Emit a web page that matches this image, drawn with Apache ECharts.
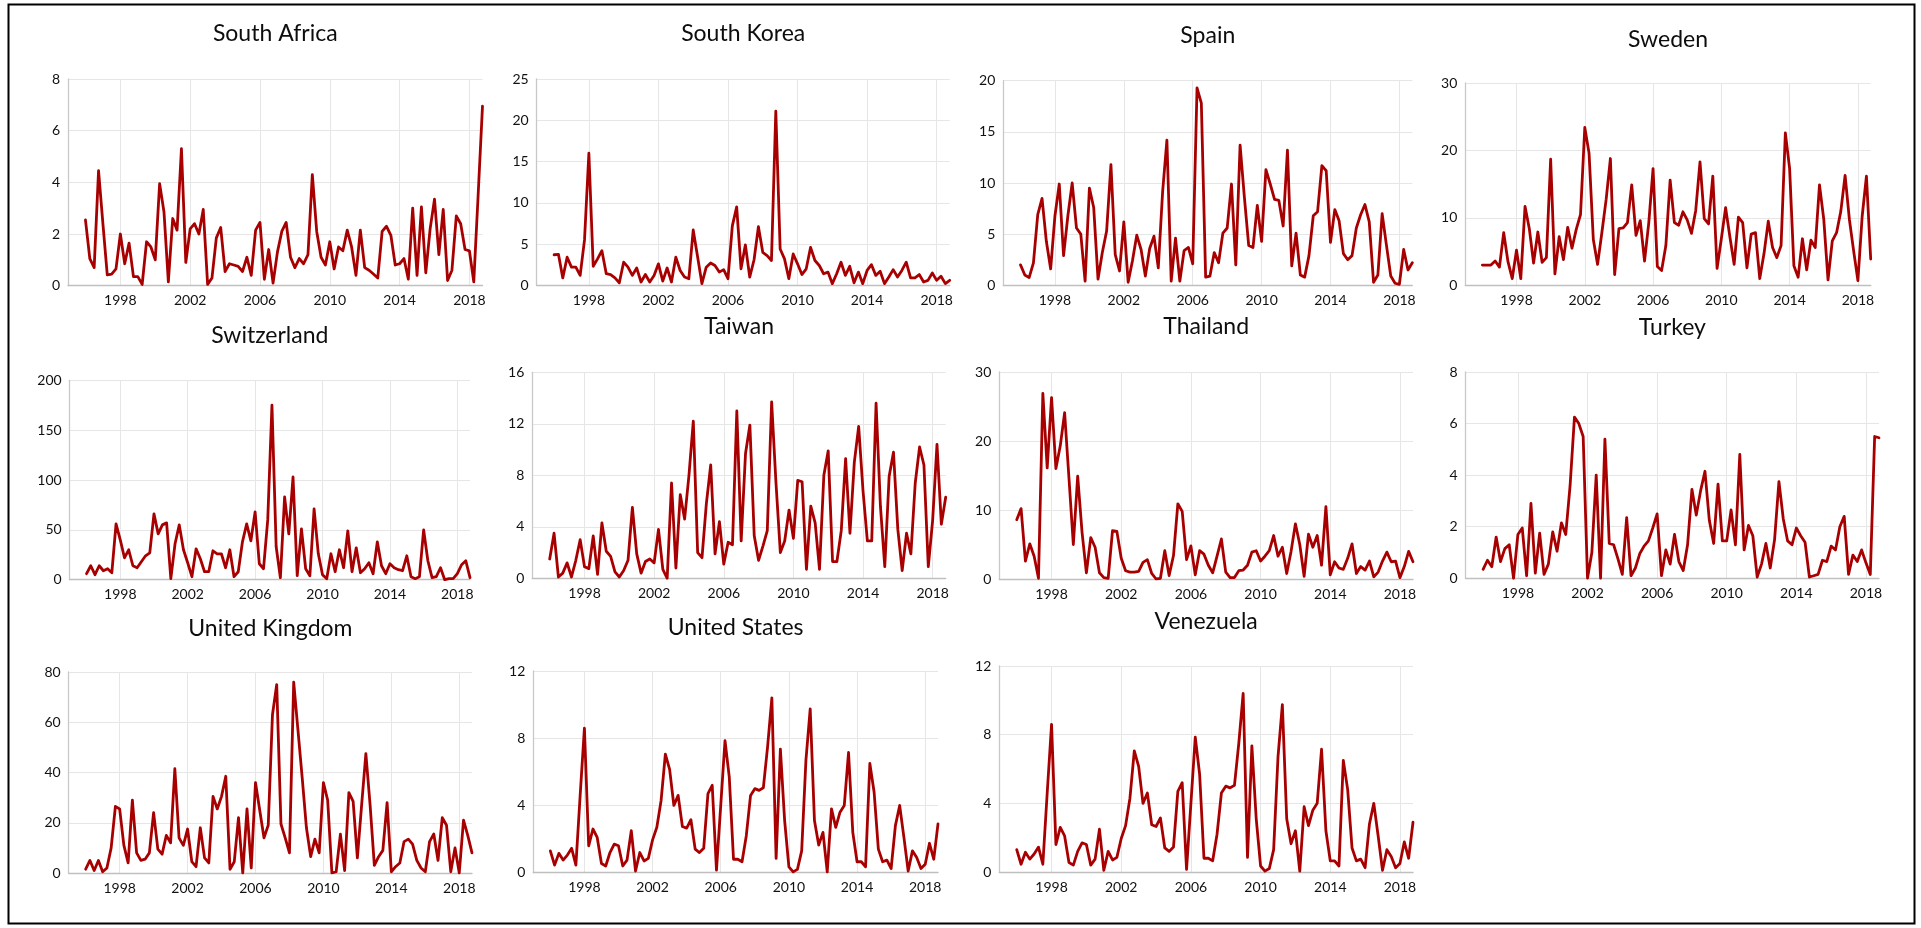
<!DOCTYPE html>
<html><head><meta charset="utf-8">
<script src="https://cdn.jsdelivr.net/npm/echarts@6/dist/echarts.min.js"></script>
<style>html,body{margin:0;padding:0;background:#fff;overflow:hidden}#c{width:1921px;height:928px}</style>
</head><body><div id="c"></div>
<script>
// ---- categories: quarters 1995Q1 .. 2018Q4 ----
const years = [1995,1996,1997,1998,1999,2000,2001,2002,2003,2004,2005,2006,2007,2008,2009,2010,2011,2012,2013,2014,2015,2016,2017,2018];
const quarters = [];
years.forEach(function (y) { for (let q = 1; q <= 4; q++) quarters.push(y + 'Q' + q); });
const xTickYears = [1998, 2002, 2006, 2010, 2014, 2018];
const firstDataQuarter = '1996Q1';

// ---- series values (quarterly, 1996Q1 .. 2018Q4) ----
const southAfrica = [2.55,1.05,0.7,4.45,2.4,0.42,0.45,0.65, 2.0,0.85,1.65,0.35,0.35,0.05,1.7,1.5, 1.0,3.95,2.85,0.15,2.6,2.15,5.3,0.9, 2.2,2.4,2.0,2.95,0.05,0.3,1.85,2.25, 0.55,0.85,0.8,0.75,0.55,1.1,0.4,2.15, 2.45,0.25,1.4,0.1,1.3,2.1,2.45,1.1, 0.7,1.05,0.85,1.2,4.3,2.1,1.1,0.8, 1.7,0.65,1.5,1.35,2.15,1.5,0.4,2.15, 0.7,0.6,0.45,0.3,2.1,2.3,1.95,0.8, 0.85,1.05,0.25,3.0,0.4,3.05,0.5,2.2, 3.35,1.2,2.95,0.2,0.6,2.7,2.4,1.4, 1.35,0.15,3.5,6.95];
const southKorea = [3.7,3.75,0.9,3.4,2.2,2.2,1.2,5.5, 16.0,2.3,3.2,4.2,1.4,1.3,0.9,0.3, 2.8,2.2,1.2,2.1,0.4,1.3,0.4,1.2, 2.6,0.5,2.1,0.4,3.4,1.8,1.0,0.8, 6.7,3.5,0.2,2.2,2.7,2.4,1.6,1.9, 0.8,7.2,9.5,2.0,4.9,1.0,3.1,7.1, 4.0,3.6,3.0,21.1,4.4,3.2,0.8,3.8, 2.6,1.3,2.0,4.6,3.0,2.4,1.4,1.6, 0.2,1.4,2.8,1.2,2.3,0.3,1.6,0.2, 1.8,2.5,1.2,1.7,0.2,1.0,1.9,1.0, 1.8,2.8,0.9,0.9,1.3,0.4,0.6,1.5, 0.6,1.1,0.2,0.6];
const spain = [2.0,1.0,0.75,2.2,6.9,8.5,4.3,1.6, 6.8,9.9,2.9,6.8,10.0,5.6,5.0,0.4, 9.5,7.6,0.6,3.2,5.3,11.8,3.0,1.4, 6.2,0.3,2.4,4.9,3.5,0.9,3.6,4.8, 1.7,9.1,14.2,0.4,4.6,0.4,3.4,3.7, 2.1,19.3,17.8,0.8,0.9,3.2,2.2,5.1, 5.6,9.9,2.0,13.7,8.6,3.9,3.7,7.8, 4.3,11.3,9.9,8.4,8.3,5.8,13.2,1.9, 5.1,1.0,0.8,2.9,6.8,7.2,11.7,11.2, 4.2,7.4,6.3,3.1,2.5,2.9,5.6,6.9, 7.9,6.2,0.3,1.0,7.0,3.9,0.9,0.2, 0.1,3.5,1.5,2.2];
const sweden = [3.0,3.0,3.0,3.6,2.7,7.8,3.5,1.0, 5.2,1.0,11.7,8.4,3.3,7.9,3.4,4.1, 18.7,1.7,7.2,3.8,8.6,5.5,8.3,10.5, 23.4,19.6,6.8,3.1,7.8,12.7,18.8,1.6, 8.4,8.5,9.3,14.9,7.4,9.6,3.6,9.3, 17.3,2.8,2.2,5.9,15.6,9.3,8.9,10.9, 9.7,7.7,11.1,18.3,9.9,9.1,16.2,2.5, 6.9,11.5,7.2,3.1,10.1,9.3,2.6,7.6, 7.8,1.0,4.7,9.5,5.6,4.1,5.9,22.6, 17.3,2.9,1.2,6.9,2.3,6.7,5.6,14.9, 9.8,0.8,6.6,7.8,11.0,16.3,9.8,5.1, 0.7,10.2,16.2,3.9];
const switzerland = [6,14,5,14,9,11,7,56, 40,22,30,14,12,18,24,27, 66,46,55,57,1,36,55,30, 17,3,31,21,8,8,29,26, 26,12,30,3,8,38,56,39, 68,16,11,60,175,33,2,83, 46,103,4,51,11,4,71,26, 5,1,26,8,30,12,49,8, 32,7,11,17,6,38,14,6, 16,12,10,9,24,3,1,3, 50,19,2,3,12,0,1,1, 6,15,19,2];
const taiwan = [1.5,3.5,0.1,0.4,1.2,0.1,1.4,3.0, 0.9,0.75,3.3,0.3,4.3,2.1,1.7,0.5, 0.1,0.6,1.4,5.5,1.9,0.4,1.3,1.5, 1.2,3.8,0.7,0.0,7.4,0.8,6.5,4.6, 8.0,12.2,2.0,1.6,5.8,8.8,1.9,4.4, 1.1,2.8,2.6,13.0,2.9,9.7,11.9,3.3, 1.4,2.5,3.7,13.7,7.4,2.0,2.9,5.3, 3.1,7.6,7.5,0.7,5.6,4.3,0.7,8.0, 9.9,1.3,1.3,3.7,9.3,3.5,9.0,11.8, 6.8,2.9,2.9,13.6,5.6,0.9,7.9,9.8, 3.8,0.6,3.5,1.9,7.4,10.2,8.8,0.9, 4.5,10.4,4.2,6.3];
const thailand = [8.6,10.2,2.6,5.1,3.3,0.1,26.9,16.1, 26.3,16.0,19.3,24.1,14.6,5.0,14.9,6.8, 0.9,6.0,4.6,0.9,0.2,0.1,7.0,6.9, 3.0,1.2,1.0,1.0,1.1,2.4,2.8,0.8, 0.0,0.1,4.1,0.5,3.4,10.9,9.8,2.8, 4.8,0.6,4.1,3.6,2.0,0.9,3.3,5.8, 1.0,0.2,0.2,1.2,1.3,2.0,3.9,4.1, 2.6,3.3,4.1,6.3,3.3,4.6,0.8,4.0, 8.0,5.0,0.4,6.5,4.6,6.3,2.0,10.5, 0.6,2.5,1.6,1.4,3.0,5.1,0.8,1.8, 1.3,2.6,0.3,1.0,2.6,3.9,2.5,2.6, 0.2,1.8,4.0,2.5];
const turkey = [0.35,0.7,0.45,1.6,0.65,1.15,1.3,0.0, 1.7,1.95,0.1,2.9,0.2,1.75,0.15,0.55, 1.8,1.05,2.15,1.7,3.6,6.25,6.0,5.5, 0.0,1.0,4.0,0.0,5.4,1.35,1.3,0.75, 0.15,2.35,0.1,0.4,0.95,1.25,1.45,1.95, 2.5,0.1,1.1,0.55,1.7,0.65,0.3,1.3, 3.45,2.45,3.4,4.15,2.25,1.35,3.65,1.45, 1.45,2.65,1.3,4.8,1.1,2.05,1.65,0.05, 0.55,1.35,0.4,1.5,3.75,2.3,1.45,1.3, 1.95,1.65,1.4,0.05,0.1,0.15,0.7,0.65, 1.25,1.1,2.0,2.4,0.15,0.9,0.65,1.1, 0.6,0.15,5.5,5.45];
const unitedKingdom = [1.5,5,1,5,0.5,2,10,26.5, 25.5,11,4,29,8,5,5.5,8, 24,9.5,7.5,15,12,41.5,14,11, 17.5,4.5,2.5,18,6,4,30.5,25.5, 30.5,38.5,1.5,4.5,22,0,25.5,2, 36,25,14,19,63,75,19.5,14, 8,76,57,38,18,6.5,13.5,8, 36,29,0,0.5,15.5,1,32,28.5, 6,27,47.5,27,3,6.5,9,28, 0.5,2.5,4,12.5,13.5,11.5,5,2, 0.5,12.5,15.5,5,22,19,0.5,10, 0,21,15,8];
const unitedStates = [1.3,0.45,1.15,0.75,1.05,1.45,0.45,4.6, 8.6,1.6,2.6,2.1,0.55,0.4,1.2,1.7, 1.6,0.4,0.75,2.5,0.1,1.2,0.7,0.85, 1.95,2.7,4.3,7.05,6.15,4.0,4.6,2.75, 2.65,3.15,1.4,1.2,1.45,4.7,5.2,0.15, 4.0,7.85,5.7,0.8,0.8,0.65,2.2,4.6, 5.0,4.9,5.05,7.5,10.4,0.85,7.35,3.1, 0.35,0.05,0.2,1.3,6.7,9.75,3.1,1.65, 2.4,0.05,3.8,2.7,3.6,4.0,7.15,2.4, 0.65,0.65,0.35,6.5,4.8,1.4,0.65,0.75, 0.25,2.8,4.0,2.1,0.1,1.3,0.9,0.25, 0.5,1.75,0.8,2.9];
const venezuela = [1.3,0.45,1.15,0.75,1.05,1.45,0.45,4.6, 8.6,1.6,2.6,2.1,0.55,0.4,1.2,1.7, 1.6,0.4,0.75,2.5,0.1,1.2,0.7,0.85, 1.95,2.7,4.3,7.05,6.15,4.0,4.6,2.75, 2.65,3.15,1.4,1.2,1.45,4.7,5.2,0.15, 4.0,7.85,5.7,0.8,0.8,0.65,2.2,4.6, 5.0,4.9,5.05,7.5,10.4,0.85,7.35,3.1, 0.35,0.05,0.2,1.3,6.7,9.75,3.1,1.65, 2.4,0.05,3.8,2.7,3.6,4.0,7.15,2.4, 0.65,0.65,0.35,6.5,4.8,1.4,0.65,0.75, 0.25,2.8,4.0,2.1,0.1,1.3,0.9,0.25, 0.5,1.75,0.8,2.9];

// ---- panel names and y-axis tick settings ----
const countries = ['South Africa','South Korea','Spain','Sweden','Switzerland','Taiwan','Thailand','Turkey','United Kingdom','United States','Venezuela'];
const seriesValues = [southAfrica, southKorea, spain, sweden, switzerland, taiwan, thailand, turkey, unitedKingdom, unitedStates, venezuela];
const yMax  = [8, 25, 20, 30, 200, 16, 30, 8, 80, 12, 12];
const yStep = [2, 5, 5, 10, 50, 4, 10, 2, 20, 4, 4];

// ---- layout (pixels): plot left, top, width, height; title centre y ----
const layout = [
  [68, 79, 414.5, 206.7, 34],
  [536.7, 79, 413, 206.3, 34],
  [1003.3, 80.7, 409, 204.6, 36],
  [1465.3, 83, 405.4, 202.3, 39.3],
  [69.7, 380.3, 400.3, 199.4, 336],
  [532.3, 372.3, 413.4, 206, 327],
  [999.3, 372, 413.7, 207, 327],
  [1465.7, 372, 413.3, 206.3, 327.7],
  [68.7, 672, 403.3, 201, 628.7],
  [533.3, 671, 404.7, 201.7, 627.7],
  [999.3, 666, 413.7, 206, 621.7]
];

const FONT = 'Lato, "Open Sans", sans-serif';
const LINE = '#A80000';
const offset = quarters.indexOf(firstDataQuarter);
function isTickQuarter(idx) {
  const q = quarters[idx];
  return q.slice(4) === 'Q1' && xTickYears.indexOf(+q.slice(0, 4)) >= 0;
}

const grids = [], xAxes = [], yAxes = [], series = [], titles = [];
countries.forEach(function (name, i) {
  const L = layout[i];
  grids.push({ left: L[0], top: L[1], width: L[2], height: L[3], containLabel: false });
  titles.push({
    text: name, left: L[0] + L[2] / 2, top: L[4], padding: 0,
    textAlign: 'center', textVerticalAlign: 'middle',
    textStyle: { fontFamily: FONT, fontSize: 23, fontWeight: 'normal', color: '#0d0d0d' }
  });
  xAxes.push({
    type: 'category', gridIndex: i, data: quarters, boundaryGap: false,
    axisLine: { show: true, lineStyle: { color: '#BFBFBF', width: 1.3 } },
    axisTick: { show: false },
    axisLabel: {
      interval: function (idx) { return isTickQuarter(idx); },
      formatter: function (v) { return v.slice(0, 4); },
      fontFamily: FONT, fontSize: 14, color: '#111', margin: 8
    },
    splitLine: { show: true, interval: function (idx) { return isTickQuarter(idx); }, lineStyle: { color: '#E6E6E6', width: 1 } }
  });
  yAxes.push({
    type: 'value', gridIndex: i, min: 0, max: yMax[i], interval: yStep[i],
    axisLine: { show: true, lineStyle: { color: '#C8C8C8', width: 1.3 } },
    axisTick: { show: false },
    axisLabel: { fontFamily: FONT, fontSize: 14, color: '#111', margin: 8 },
    splitLine: { show: true, lineStyle: { color: '#E6E6E6', width: 1 } }
  });
  const data = quarters.map(function (q, k) {
    const j = k - offset;
    return j >= 0 && j < seriesValues[i].length ? seriesValues[i][j] : null;
  });
  series.push({
    type: 'line', name: name, xAxisIndex: i, yAxisIndex: i, data: data,
    showSymbol: false, symbol: 'none', connectNulls: false,
    lineStyle: { color: LINE, width: 2.8, cap: 'round', join: 'round' },
    clip: true, animation: false
  });
});

const chart = echarts.init(document.getElementById('c'), null, { renderer: 'canvas' });
chart.setOption({
  backgroundColor: '#ffffff',
  animation: false,
  title: titles,
  grid: grids,
  xAxis: xAxes,
  yAxis: yAxes,
  series: series,
  graphic: [{
    type: 'rect', left: 6, top: 2, z: 100, silent: true,
    shape: { width: 1906, height: 919 },
    style: { fill: 'none', stroke: '#000', lineWidth: 2 }
  }]
});
</script>
</body></html>
